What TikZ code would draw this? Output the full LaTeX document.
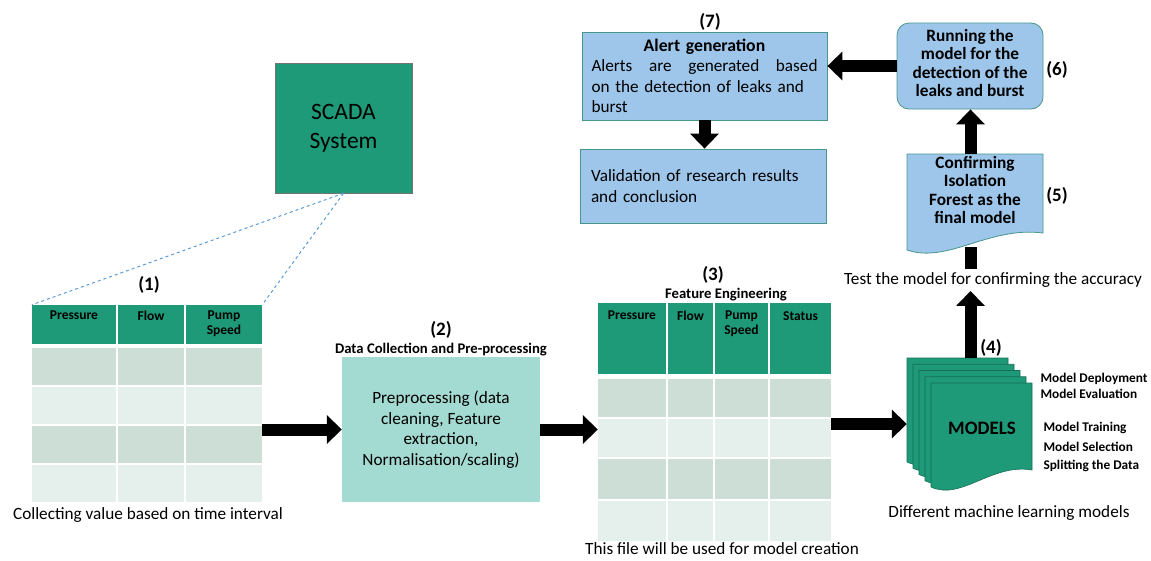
\documentclass[tikz,border=0pt]{standalone}
\usepackage{fontspec}
\setmainfont{Carlito}
\usepackage{tikz}
\usetikzlibrary{arrows.meta, positioning}

\definecolor{scada}{RGB}{31,154,120}
\definecolor{scadaedge}{RGB}{22,110,86}
\definecolor{rowdark}{RGB}{204,222,214}
\definecolor{rowlight}{RGB}{229,239,236}
\definecolor{prep}{RGB}{163,218,209}
\definecolor{skyb}{RGB}{157,198,234}
\definecolor{skyedge}{RGB}{72,150,138}
\definecolor{linkblue}{RGB}{91,155,213}

% page with a wavy lower edge: x, y, width, left height, style
\newcommand{\docpage}[5]{%
  \path[#5] (#1,#2) -- ({#1+#3},#2) -- ({#1+#3},{#2+#4-17})
    .. controls ({#1+0.6*#3},{#2+#4-24}) and ({#1+0.3*#3},{#2+#4+14}) .. (#1,{#2+#4}) -- cycle;}

\begin{document}
\begin{tikzpicture}[x=1pt, y=-1pt,
    body/.style={font=\fontsize{17.2}{20.5}\selectfont},
    tag/.style={font=\bfseries\fontsize{19}{22}\selectfont},
    boxtext/.style={font=\bfseries\fontsize{17.3}{18.5}\selectfont, align=center},
    sub/.style={font=\bfseries\fontsize{14.7}{17}\selectfont},
    stage/.style={font=\bfseries\fontsize{13.3}{15}\selectfont, anchor=west},
    hdr/.style={font=\bfseries\fontsize{13.5}{15}\selectfont, align=center, anchor=north, inner sep=0pt},
    frame/.style={inner sep=0pt, draw=none},
    bluebox/.style={fill=skyb, draw=skyedge, line width=0.8pt, inner sep=0pt},
    bigarrow/.style={draw, line width=12pt, -{Triangle[length=15pt, width=28pt]}}]
    \useasboundingbox (0,0) rectangle (1151,560);

    %Nodes
    \node[fill=scada, draw=black!55, line width=0.6pt, minimum width=137pt, minimum height=130pt,
      align=center, font=\fontsize{23.5}{29}\selectfont] (scada) at (343.5,128) {SCADA\\System};

    % table (1)
    \node[frame, minimum width=230pt, minimum height=197pt] (tab1) at (147,403.5) {};
    \foreach \xa/\xb in {32/116, 118/184, 186/262} {
      \fill[scada] (\xa,305) rectangle (\xb,344);
      \foreach \ya/\yb/\c in {348/385/rowdark, 387/424/rowlight, 426/463/rowdark, 465/502/rowlight}
        \fill[\c] (\xa,\ya) rectangle (\xb,\yb);
    }
    \node[hdr] (t1pres) at (74,311) {Pressure};
    \node[hdr] (t1flow) at (151,311) {Flow};
    \node[hdr] (t1pump) at (224,311) {Pump\\Speed};
    \node[tag] (n1) at (149,285) {(1)};
    \node[body] (cap1) at (148,515) {Collecting value based on time interval};

    % step (2)
    \node[fill=prep, minimum width=198pt, minimum height=145pt, align=center, body] (box2) at (441,429.5)
      {Preprocessing (data\\cleaning, Feature\\extraction,\\Normalisation/scaling)};
    \node[sub] (sub2) at (441,350) {Data Collection and Pre-processing};
    \node[tag] (n2) at (441,330) {(2)};

    % table (3)
    \node[frame, minimum width=233pt, minimum height=238pt] (tab3) at (714.5,422) {};
    \foreach \xa/\xb in {598/666, 668/713, 715/768, 770/831} {
      \fill[scada] (\xa,303) rectangle (\xb,374);
      \foreach \ya/\yb/\c in {379/417/rowdark, 419/457/rowlight, 459/499/rowdark, 501/541/rowlight}
        \fill[\c] (\xa,\ya) rectangle (\xb,\yb);
    }
    \node[hdr] (t3pres) at (632,311) {Pressure};
    \node[hdr] (t3flow) at (690.5,311) {Flow};
    \node[hdr] (t3pump) at (741.5,311) {Pump\\Speed};
    \node[hdr] (t3stat) at (800.5,311) {Status};
    \node[sub] (sub3) at (726,295) {Feature Engineering};
    \node[tag] (n3) at (713,275) {(3)};
    \node[body] (cap3) at (722,549) {This file will be used for model creation};

    % models (4)
    \node[frame, minimum width=127pt, minimum height=132pt] (stack) at (970.5,424) {};
    \foreach \i in {0,...,4}
      \docpage{907+6*\i}{358+6.25*\i}{101}{104}{fill=scada, draw=scadaedge, line width=0.6pt}
    \node[font=\bfseries\fontsize{19}{20}\selectfont] (models) at (982,428) {MODELS};
    \node[stage] (deploy) at (1037,379) {Model Deployment};
    \node[stage] (evalu) at (1037,394) {Model Evaluation};
    \node[stage] (train) at (1040,428) {Model Training};
    \node[stage] (select) at (1040,447) {Model Selection};
    \node[stage] (split) at (1040,466) {Splitting the Data};
    \node[tag] (n4) at (991,348) {(4)};
    \node[body] (cap4) at (1009,513) {Different machine learning models};
    \node[body] (test) at (993,280) {Test the model for confirming the accuracy};

    % final model (5)
    \docpage{907}{154}{136}{96}{fill=skyb, draw=skyedge, line width=0.8pt}
    \coordinate (b5top) at (970.5,154);
    \coordinate (b5bot) at (970.5,247);
    \node[boxtext] (box5) at (975,190) {Confirming\\Isolation\\Forest as the\\final model};
    \node[tag] (n5) at (1057,196) {(5)};

    % detection (6)
    \node[bluebox, rounded corners=12pt, minimum width=146pt, minimum height=86pt] (box6) at (970,66) {};
    \node[boxtext] (run) at (970,63) {Running the\\model for the\\detection of the\\leaks and burst};
    \node[tag] (n6) at (1057,70) {(6)};

    % alerts (7)
    \node[bluebox, minimum width=245pt, minimum height=88pt, body, text width=226pt, align=left]
      (box7) at (704.5,76) {{\centering\bfseries\fontsize{17.7}{20}\selectfont Alert generation\par}
      Alerts\hfill are\hfill generated\hfill based\\on the detection of leaks and\\burst};
    \node[tag] (n7) at (710,22) {(7)};
    \node[bluebox, minimum width=246pt, minimum height=74pt, body, text width=224pt, align=left]
      (box8) at (703,186) {Validation of research results\\and conclusion};

    % Edges
    \draw[linkblue, dashed, line width=1pt] (scada.south) -- (tab1.north west);
    \draw[linkblue, dashed, line width=1pt] (scada.south) -- (tab1.north east);
    \draw[bigarrow] (box2.west -| tab1.east) -- (box2.west);
    \draw[bigarrow] (box2.east) -- (box2.east -| tab3.west);
    \draw[bigarrow] (stack.west -| tab3.east) -- (stack.west);
    \draw[bigarrow] (stack.north) -- (stack.north |- test.south);
    \draw[draw, line width=12pt] (test.north -| stack.north) -- (b5bot);
    \draw[bigarrow] (b5top) -- (b5top |- box6.south);
    \draw[bigarrow] (box6.west) -- (box6.west -| box7.east);
    \draw[bigarrow] (box7.south) -- (box7.south |- box8.north);

\end{tikzpicture}
\end{document}
